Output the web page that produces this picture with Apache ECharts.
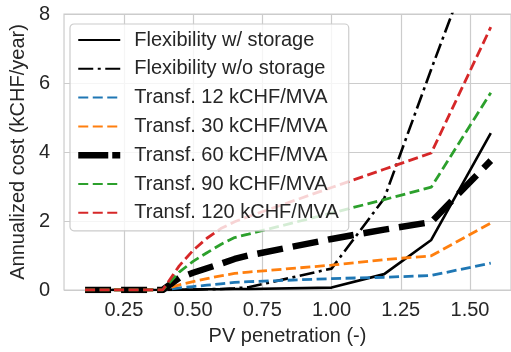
<!DOCTYPE html>
<html lang="en">
<head>
    <meta charset="UTF-8">
    <title>Annualized cost vs PV penetration</title>
    <style>
        html, body { margin: 0; padding: 0; background: #fff; }
    </style>
</head>
<body>
    <div id="chart" style="width:511px;height:352px;"></div>

    <script src="https://cdn.jsdelivr.net/npm/echarts@6/dist/echarts.min.js"></script>
    <script>
// PV penetration (-) sample points
var pv = [0.11, 0.39, 0.45, 0.5, 0.55, 0.6, 0.65, 0.7, 1.0, 1.19, 1.36, 1.575];

// annualized cost (kCHF/year)
var flexStorage   = [0, 0, 0.01, 0.01, 0.02, 0.02, 0.03, 0.03, 0.07, 0.46, 1.45, 4.55];
var flexNoStorage = [0, 0, 0.01, 0.01, 0.02, 0.03, 0.05, 0.08, 0.62, 2.65, 6.4, 11];
var transf12  = [0, 0, 0.06, 0.1, 0.14, 0.18, 0.22, 0.24, 0.33, 0.37, 0.42, 0.78];
var transf30  = [0, 0, 0.15, 0.24, 0.33, 0.41, 0.48, 0.52, 0.72, 0.88, 0.99, 1.94];
var transf60  = [0, 0, 0.35, 0.5, 0.63, 0.76, 0.9, 1.0, 1.48, 1.75, 1.97, 3.75];
var transf90  = [0, 0, 0.52, 0.83, 1.08, 1.32, 1.52, 1.62, 2.23, 2.62, 2.98, 5.72];
var transf120 = [0, 0, 0.7, 1.15, 1.5, 1.78, 1.98, 2.13, 2.97, 3.5, 3.97, 7.62];

var xTicks = [0.25, 0.5, 0.75, 1.0, 1.25, 1.5];

var names = [
    'Flexibility w/ storage',
    'Flexibility w/o storage',
    'Transf. 12 kCHF/MVA',
    'Transf. 30 kCHF/MVA',
    'Transf. 60 kCHF/MVA',
    'Transf. 90 kCHF/MVA',
    'Transf. 120 kCHF/MVA'
];

var textColor = '#262626';
var gridColor = '#cccccc';
var font = 'Liberation Sans, Arial, sans-serif';

function pairs(ys) {
    return pv.map(function (x, i) { return [x, ys[i]]; });
}

function line(name, ys, color, width, dash) {
    return {
        name: name,
        type: 'line',
        data: pairs(ys),
        symbol: 'none',
        clip: true,
        lineStyle: { color: color, width: width, type: dash },
        itemStyle: { color: color }
    };
}

// legend entries; the thick one needs its own line style
var legendData = names.map(function (n, i) {
    if (i === 4) {
        return { name: n, lineStyle: { width: 6.5, type: [30, 4] } };
    }
    return { name: n };
});

var option = {
    animation: false,
    backgroundColor: '#ffffff',
    textStyle: { fontFamily: font },
    grid: {
        left: 60, top: 14, width: 454, height: 276,
        show: true,
        backgroundColor: '#ffffff',
        borderColor: gridColor,
        borderWidth: 1.2
    },
    legend: {
        orient: 'vertical',
        left: 70, top: 24,
        padding: [6, 10, 8, 5],
        itemWidth: 42,
        itemHeight: 20,
        itemGap: 8.8,
        backgroundColor: 'rgba(255,255,255,0.8)',
        borderColor: gridColor,
        borderWidth: 1.2,
        borderRadius: 4,
        data: legendData,
        itemStyle: { opacity: 0 },
        textStyle: { fontSize: 20, color: textColor, fontFamily: font, padding: [0, 0, 0, 9] }
    },
    xAxis: {
        type: 'value',
        min: 0.034,
        max: 1.648,
        name: 'PV penetration (-)',
        nameLocation: 'middle',
        nameGap: 36,
        nameTextStyle: { fontSize: 20, color: textColor, fontFamily: font },
        axisLine: { show: false },
        axisTick: { show: false, customValues: xTicks },
        axisLabel: {
            customValues: xTicks,
            fontSize: 20, color: textColor, margin: 10,
            formatter: function (v) { return v.toFixed(2); }
        },
        splitLine: { show: true, lineStyle: { color: gridColor, width: 1.2 } }
    },
    yAxis: {
        type: 'value',
        min: 0, max: 8, interval: 2,
        name: 'Annualized cost (kCHF/year)',
        nameLocation: 'middle',
        nameGap: 32,
        nameTextStyle: { fontSize: 20, color: textColor, fontFamily: font },
        axisLine: { show: false },
        axisTick: { show: false },
        axisLabel: { fontSize: 20, color: textColor, margin: 14 },
        splitLine: { show: true, lineStyle: { color: gridColor, width: 1.2 } }
    },
    series: [
        line(names[0], flexStorage, '#000000', 2.6, 'solid'),
        line(names[1], flexNoStorage, '#000000', 2.6, [15, 4.5, 3, 4.5]),
        line(names[2], transf12, '#1f77b4', 2.8, [10, 4.5]),
        line(names[3], transf30, '#ff7f0e', 2.8, [10, 4.5]),
        line(names[4], transf60, '#000000', 6.5, [26, 10]),
        line(names[5], transf90, '#2ca02c', 2.8, [10, 4.5]),
        line(names[6], transf120, '#d62728', 2.8, [10, 4.5])
    ]
};

var chart = echarts.init(document.getElementById('chart'), null, { renderer: 'canvas' });
chart.setOption(option);
    </script>
</body>
</html>
